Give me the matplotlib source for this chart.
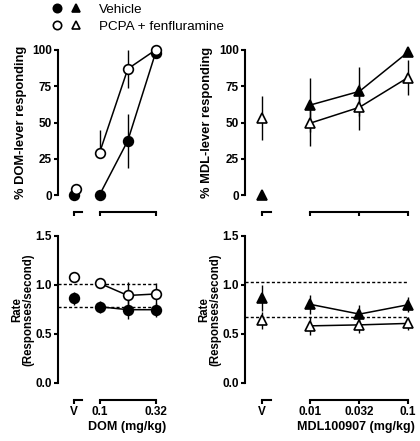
#!/usr/bin/env python
"""Drug discrimination / response rate panels (DOM and MDL100907)."""

import matplotlib
matplotlib.use('Agg')
import matplotlib.pyplot as plt
from matplotlib.lines import Line2D
from matplotlib.legend_handler import HandlerTuple
from matplotlib.spines import Spine
from matplotlib.ticker import NullLocator, FixedLocator, FixedFormatter

plt.rcParams['font.family'] = 'Liberation Sans'

# ---- data ---------------------------------------------------------------
DOM_DOSES = [0.1, 0.18, 0.32]
DOM_TICKS = [0.1, 0.32]
DOM_TICKLABELS = ['0.1', '0.32']
MDL_DOSES = [0.01, 0.032, 0.1]
MDL_TICKLABELS = ['0.01', '0.032', '0.1']

# % drug-lever responding, DOM
DOM_PCT_VEH_V = 0
DOM_PCT_PCPA_V = 4
DOM_PCT_VEH = [0, 37.5, 98]
DOM_PCT_VEH_ERR_LO = [0, 19, 2]
DOM_PCT_VEH_ERR_HI = [0, 18.5, 2]
DOM_PCT_PCPA = [29, 87, 100]
DOM_PCT_PCPA_ERR_LO = [0, 13, 0]
DOM_PCT_PCPA_ERR_HI = [16, 13, 0]

# % drug-lever responding, MDL100907
MDL_PCT_VEH_V = 0
MDL_PCT_PCPA_V = 53
MDL_PCT_PCPA_V_ERR = 15
MDL_PCT_VEH = [62, 71.5, 98.5]
MDL_PCT_VEH_ERR = [18.5, 17, 2]
MDL_PCT_PCPA = [49.5, 60.5, 81]
MDL_PCT_PCPA_ERR = [16, 16, 12]

# response rate, DOM
DOM_RATE_VEH_V, DOM_RATE_VEH_V_ERR = 0.86, 0.07
DOM_RATE_PCPA_V, DOM_RATE_PCPA_V_ERR = 1.075, 0.02
DOM_RATE_VEH = [0.775, 0.745, 0.745]
DOM_RATE_VEH_ERR = [0.06, 0.1, 0.07]
DOM_RATE_PCPA = [1.015, 0.89, 0.905]
DOM_RATE_PCPA_ERR = [0.02, 0.14, 0.11]
DOM_RATE_BASELINES = [1.005, 0.775]

# response rate, MDL100907
MDL_RATE_VEH_V, MDL_RATE_VEH_V_ERR = 0.865, 0.13
MDL_RATE_PCPA_V, MDL_RATE_PCPA_V_ERR = 0.635, 0.085
MDL_RATE_VEH = [0.80, 0.70, 0.795]
MDL_RATE_VEH_ERR = [0.095, 0.09, 0.075]
MDL_RATE_PCPA = [0.58, 0.59, 0.605]
MDL_RATE_PCPA_ERR = [0.09, 0.08, 0.07]
MDL_RATE_BASELINES = [1.03, 0.672]

# ---- style --------------------------------------------------------------
LW_AXIS = 1.5
LW_DATA = 1.1
MS_CIRCLE = 7
MS_TRI = 7.5
TICK_FS = 8.5
LABEL_FS = 9.3
RATE_LABEL_FS = 8.3
XLABEL_FS = 9
OUTWARD = 12.5

FIG_W, FIG_H = 420, 441


def px_box(left, right, top, bottom):
    """Axes box given in reference pixels."""
    return [left / FIG_W, (FIG_H - bottom) / FIG_H,
            (right - left) / FIG_W, (bottom - top) / FIG_H]


def style_axes(ax, xlim, ylim, yticks, yticklabels, vehicle_x, v_end,
               bounds, xticks, xticklabels, show_labels):
    ax.set_xscale('log')
    ax.set_xlim(*xlim)
    ax.set_ylim(*ylim)
    for s in ['top', 'right']:
        ax.spines[s].set_visible(False)
    ax.spines['left'].set_linewidth(LW_AXIS)
    ax.spines['bottom'].set_linewidth(LW_AXIS)
    ax.spines['bottom'].set_position(('outward', OUTWARD))
    ax.spines['bottom'].set_bounds(*bounds)
    # small bracket for the vehicle point
    sp = Spine.linear_spine(ax, 'bottom')
    sp.set_position(('outward', OUTWARD))
    sp.set_bounds(vehicle_x, v_end)
    sp.set_linewidth(LW_AXIS)
    ax.spines['vehicle'] = sp

    ax.xaxis.set_minor_locator(NullLocator())
    ax.xaxis.set_major_locator(FixedLocator([vehicle_x] + list(xticks)))
    if show_labels:
        ax.xaxis.set_major_formatter(FixedFormatter(['V'] + list(xticklabels)))
    else:
        ax.xaxis.set_major_formatter(FixedFormatter([''] * (len(xticks) + 1)))
    ax.set_yticks(yticks)
    ax.set_yticklabels(yticklabels)
    ax.tick_params(axis='both', direction='out', length=3, width=LW_AXIS,
                   labelsize=TICK_FS, pad=1.5)
    for lab in ax.get_xticklabels() + ax.get_yticklabels():
        lab.set_fontweight('bold')


def plot_series(ax, x, y, yerr, marker, face, ms, z):
    ax.errorbar(x, y, yerr=yerr, fmt='-', color='black', lw=LW_DATA,
                marker=marker, ms=ms, mfc=face, mec='black', mew=1.2,
                elinewidth=1.0, capsize=0, clip_on=False, zorder=z)


def plot_vehicle(ax, x, y, yerr, marker, face, ms, z):
    ax.errorbar([x], [y], yerr=None if yerr is None else [yerr], fmt='none',
                ecolor='black', elinewidth=1.0, capsize=0, clip_on=False,
                zorder=z)
    ax.plot([x], [y], linestyle='none', marker=marker, ms=ms, mfc=face,
            mec='black', mew=1.2, clip_on=False, zorder=z + 0.5)


fig = plt.figure(figsize=(FIG_W / 100, FIG_H / 100), dpi=100)

# x positions for vehicle points / brackets and axis limits (log scale)
DOM_XLIM = (0.0425, 0.366)
DOM_V = 0.059
DOM_V_END = DOM_V * 1.18
MDL_XLIM = (0.00217, 0.11)
MDL_V = 0.00325
MDL_V_END = MDL_V * 1.24

PCT_TICKS = [0, 25, 50, 75, 100]
PCT_LABELS = ['0', '25', '50', '75', '100']
RATE_TICKS = [0.0, 0.5, 1.0, 1.5]
RATE_LABELS = ['0.0', '0.5', '1.0', '1.5']

ax_tl = fig.add_axes(px_box(58.3, 162, 50, 195))
ax_tr = fig.add_axes(px_box(245, 412, 50, 195))
ax_bl = fig.add_axes(px_box(58.3, 162, 235.7, 382.7))
ax_br = fig.add_axes(px_box(245, 412, 235.7, 382.7))

# --- top left: DOM % responding
style_axes(ax_tl, DOM_XLIM, (0, 100), PCT_TICKS, PCT_LABELS, DOM_V, DOM_V_END,
           (DOM_TICKS[0], DOM_TICKS[-1]), DOM_TICKS, DOM_TICKLABELS, False)
plot_vehicle(ax_tl, DOM_V, DOM_PCT_VEH_V, None, 'o', 'black', MS_CIRCLE, 3)
plot_vehicle(ax_tl, DOM_V * 1.03, DOM_PCT_PCPA_V, None, 'o', 'white', MS_CIRCLE, 4)
plot_series(ax_tl, DOM_DOSES, DOM_PCT_VEH,
            [DOM_PCT_VEH_ERR_LO, DOM_PCT_VEH_ERR_HI], 'o', 'black', MS_CIRCLE, 3)
plot_series(ax_tl, DOM_DOSES, DOM_PCT_PCPA,
            [DOM_PCT_PCPA_ERR_LO, DOM_PCT_PCPA_ERR_HI], 'o', 'white', MS_CIRCLE, 4)
ax_tl.set_ylabel('% DOM-lever responding', fontsize=LABEL_FS,
                 fontweight='bold', labelpad=4)

# --- top right: MDL % responding
style_axes(ax_tr, MDL_XLIM, (0, 100), PCT_TICKS, PCT_LABELS, MDL_V, MDL_V_END,
           (MDL_DOSES[0], MDL_DOSES[-1]), MDL_DOSES, MDL_TICKLABELS, False)
plot_vehicle(ax_tr, MDL_V, MDL_PCT_VEH_V, None, '^', 'black', MS_TRI, 3)
plot_vehicle(ax_tr, MDL_V, MDL_PCT_PCPA_V, MDL_PCT_PCPA_V_ERR, '^', 'white', MS_TRI, 4)
plot_series(ax_tr, MDL_DOSES, MDL_PCT_VEH, MDL_PCT_VEH_ERR, '^', 'black', MS_TRI, 3)
plot_series(ax_tr, MDL_DOSES, MDL_PCT_PCPA, MDL_PCT_PCPA_ERR, '^', 'white', MS_TRI, 4)
ax_tr.set_ylabel('% MDL-lever responding', fontsize=LABEL_FS,
                 fontweight='bold', labelpad=4)

# --- bottom left: DOM rate
style_axes(ax_bl, DOM_XLIM, (0, 1.5), RATE_TICKS, RATE_LABELS, DOM_V, DOM_V_END,
           (DOM_TICKS[0], DOM_TICKS[-1]), DOM_TICKS, DOM_TICKLABELS, True)
ax_bl.hlines(DOM_RATE_BASELINES, DOM_XLIM[0], DOM_DOSES[-1], colors='black',
             linestyles=(0, (2.2, 1.6)), lw=1.0, zorder=1)
plot_vehicle(ax_bl, DOM_V, DOM_RATE_VEH_V, DOM_RATE_VEH_V_ERR, 'o', 'black', MS_CIRCLE, 3)
plot_vehicle(ax_bl, DOM_V, DOM_RATE_PCPA_V, DOM_RATE_PCPA_V_ERR, 'o', 'white', MS_CIRCLE, 4)
plot_series(ax_bl, DOM_DOSES, DOM_RATE_VEH, DOM_RATE_VEH_ERR, 'o', 'black', MS_CIRCLE, 3)
plot_series(ax_bl, DOM_DOSES, DOM_RATE_PCPA, DOM_RATE_PCPA_ERR, 'o', 'white', MS_CIRCLE, 4)
ax_bl.set_ylabel('Rate\n(Responses/second)', fontsize=RATE_LABEL_FS,
                 fontweight='bold', labelpad=0.5, linespacing=0.95)
ax_bl.set_xlabel('DOM (mg/kg)', fontsize=XLABEL_FS, fontweight='bold')
ax_bl.xaxis.set_label_coords(
    (DOM_TICKS[0] * DOM_TICKS[-1]) ** 0.5, -0.26,
    transform=ax_bl.get_xaxis_transform())

# --- bottom right: MDL rate
style_axes(ax_br, MDL_XLIM, (0, 1.5), RATE_TICKS, RATE_LABELS, MDL_V, MDL_V_END,
           (MDL_DOSES[0], MDL_DOSES[-1]), MDL_DOSES, MDL_TICKLABELS, True)
ax_br.hlines(MDL_RATE_BASELINES, MDL_XLIM[0], MDL_DOSES[-1], colors='black',
             linestyles=(0, (2.2, 1.6)), lw=1.0, zorder=1)
plot_vehicle(ax_br, MDL_V, MDL_RATE_VEH_V, MDL_RATE_VEH_V_ERR, '^', 'black', MS_TRI, 3)
plot_vehicle(ax_br, MDL_V, MDL_RATE_PCPA_V, MDL_RATE_PCPA_V_ERR, '^', 'white', MS_TRI, 4)
plot_series(ax_br, MDL_DOSES, MDL_RATE_VEH, MDL_RATE_VEH_ERR, '^', 'black', MS_TRI, 3)
plot_series(ax_br, MDL_DOSES, MDL_RATE_PCPA, MDL_RATE_PCPA_ERR, '^', 'white', MS_TRI, 4)
ax_br.set_ylabel('Rate\n(Responses/second)', fontsize=RATE_LABEL_FS,
                 fontweight='bold', labelpad=0.5, linespacing=0.95)
ax_br.set_xlabel('MDL100907 (mg/kg)', fontsize=XLABEL_FS, fontweight='bold')
ax_br.xaxis.set_label_coords(
    (MDL_DOSES[0] * MDL_DOSES[-1]) ** 0.5 * 0.93, -0.26,
    transform=ax_br.get_xaxis_transform())

# --- legend
def mk(marker, face):
    return Line2D([], [], linestyle='none', marker=marker, ms=6, mfc=face,
                  mec='black', mew=1.2)

handles = [(mk('o', 'black'), mk('^', 'black')),
           (mk('o', 'white'), mk('^', 'white'))]
fig.legend(handles, ['Vehicle', 'PCPA + fenfluramine'],
           handler_map={tuple: HandlerTuple(ndivide=None, pad=0)},
           loc='upper left', bbox_to_anchor=(0.113, 0.992), frameon=False,
           borderpad=0, borderaxespad=0, handlelength=2.8,
           handletextpad=1.0, labelspacing=0.35, fontsize=9.7)

fig.savefig('out.png', dpi=100)
